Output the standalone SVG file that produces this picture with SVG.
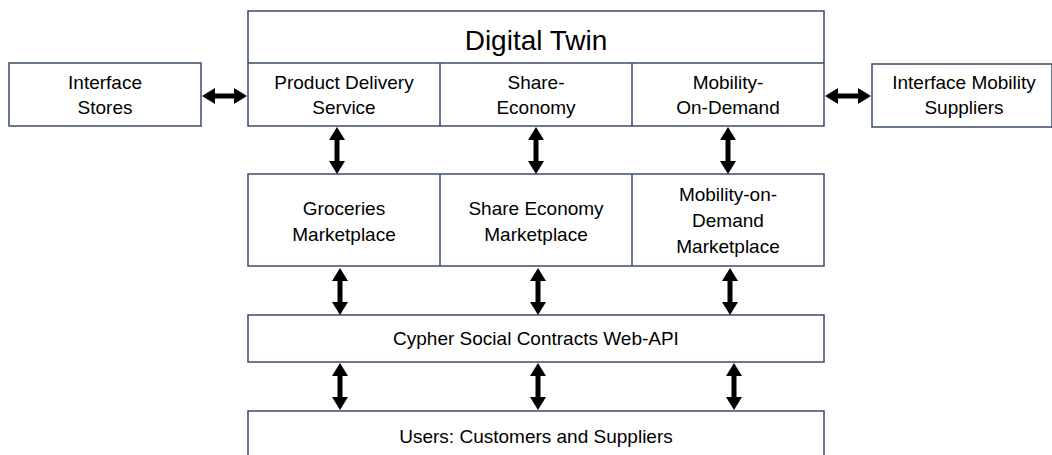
<svg xmlns="http://www.w3.org/2000/svg" width="1052" height="455" viewBox="0 0 1052 455">
<style>
.box{fill:#fff;stroke:#3b4a6b;stroke-width:1.5}
.t{font-family:"Liberation Sans",Arial,sans-serif;font-size:19px;fill:#000;text-anchor:middle}
.big{font-size:28px}
.c{stroke:#000;stroke-width:5;fill:none;marker-start:url(#ah);marker-end:url(#ah)}
</style>
<defs>
<marker id="ah" markerUnits="userSpaceOnUse" markerWidth="13" markerHeight="16" refX="0" refY="8" orient="auto-start-reverse" viewBox="0 0 13 16">
<path d="M0,0 L13,8 L0,16 z" fill="#000"/>
</marker>
</defs>
<rect width="1052" height="455" fill="#fff"/>
<g id="digital-twin">
<rect class="box" x="248" y="11" width="576" height="115"/>
<line class="box" x1="248" y1="63" x2="824" y2="63"/>
<line class="box" x1="440" y1="63" x2="440" y2="126"/>
<line class="box" x1="632" y1="63" x2="632" y2="126"/>
<text class="t big" x="536" y="50">Digital Twin</text>
</g>
<g id="product-delivery">
<text class="t" x="344" y="89">Product Delivery</text>
<text class="t" x="344" y="114">Service</text>
</g>
<g id="share-economy">
<text class="t" x="536" y="89">Share-</text>
<text class="t" x="536" y="114">Economy</text>
</g>
<g id="mobility-on-demand">
<text class="t" x="728" y="89">Mobility-</text>
<text class="t" x="728" y="114">On-Demand</text>
</g>
<g id="interface-stores">
<rect class="box" x="9" y="63" width="192" height="63"/>
<text class="t" x="105" y="89">Interface</text>
<text class="t" x="105" y="114">Stores</text>
</g>
<g id="interface-mobility">
<rect class="box" x="872" y="64" width="180" height="63"/>
<text class="t" x="964" y="89">Interface Mobility</text>
<text class="t" x="964" y="114">Suppliers</text>
</g>
<g id="marketplaces">
<rect class="box" x="248" y="174" width="576" height="92"/>
<line class="box" x1="440" y1="174" x2="440" y2="266"/>
<line class="box" x1="632" y1="174" x2="632" y2="266"/>
</g>
<g id="groceries-marketplace">
<text class="t" x="344" y="215">Groceries</text>
<text class="t" x="344" y="241">Marketplace</text>
</g>
<g id="share-economy-marketplace">
<text class="t" x="536" y="215">Share Economy</text>
<text class="t" x="536" y="241">Marketplace</text>
</g>
<g id="mod-marketplace">
<text class="t" x="728" y="201">Mobility-on-</text>
<text class="t" x="728" y="227">Demand</text>
<text class="t" x="728" y="253">Marketplace</text>
</g>
<g id="cypher">
<rect class="box" x="248" y="315" width="576" height="47"/>
<text class="t" x="536" y="345">Cypher Social Contracts Web-API</text>
</g>
<g id="users">
<rect class="box" x="248" y="411" width="576" height="50"/>
<text class="t" x="536" y="443">Users: Customers and Suppliers</text>
</g>
<g id="connectors">
<line class="c" x1="215" y1="96" x2="234" y2="96"/>
<line class="c" x1="838" y1="96" x2="858" y2="96"/>
<line class="c" x1="337" y1="140" x2="337" y2="161"/>
<line class="c" x1="536" y1="140" x2="536" y2="161"/>
<line class="c" x1="728" y1="140" x2="728" y2="161"/>
<line class="c" x1="340" y1="281" x2="340" y2="302"/>
<line class="c" x1="538" y1="281" x2="538" y2="302"/>
<line class="c" x1="730" y1="281" x2="730" y2="302"/>
<line class="c" x1="340" y1="376" x2="340" y2="397"/>
<line class="c" x1="538" y1="376" x2="538" y2="397"/>
<line class="c" x1="734" y1="376" x2="734" y2="397"/>
</g>
</svg>
